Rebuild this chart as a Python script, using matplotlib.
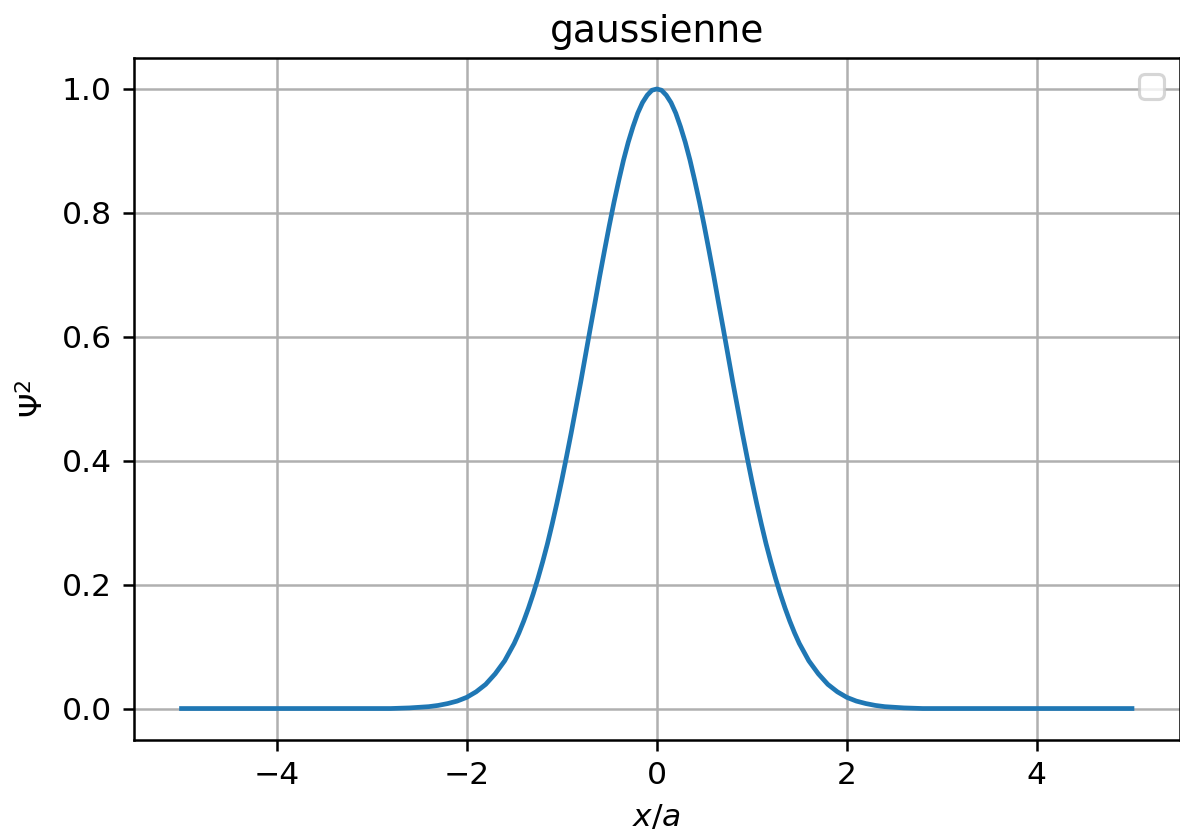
import matplotlib
matplotlib.use("Agg")
import matplotlib.pyplot as plt

# values
x_pos = [0.0, 0.05, 0.1, 0.15, 0.2, 0.25, 0.3, 0.35, 0.4, 0.45, 0.5, 0.55, 0.6, 0.65,
         0.7, 0.75, 0.8, 0.85, 0.9, 0.95, 1.0, 1.05, 1.1, 1.15, 1.2, 1.25, 1.3, 1.35,
         1.4, 1.45, 1.5, 1.6, 1.7, 1.8, 1.9, 2.0, 2.1, 2.2, 2.3, 2.4, 2.5, 2.6, 2.8,
         3.0, 4.0, 5.0]
psi2_pos = [1.000, 0.998, 0.990, 0.978, 0.961, 0.939, 0.914, 0.885, 0.852, 0.817,
            0.779, 0.739, 0.698, 0.655, 0.613, 0.570, 0.527, 0.486, 0.445, 0.406,
            0.368, 0.332, 0.298, 0.266, 0.237, 0.210, 0.185, 0.162, 0.141, 0.122,
            0.105, 0.077, 0.056, 0.039, 0.027, 0.018, 0.012, 0.008, 0.005, 0.003,
            0.002, 0.001, 0.000, 0.000, 0.000, 0.000]

x_vals = [-v for v in x_pos[::-1]] + x_pos[1:]
psi2_vals = psi2_pos[::-1] + psi2_pos[1:]

title = "gaussienne"
xlabel = "$x/a$"
ylabel = r"$\Psi^2$"

DPI = 226
fig = plt.figure(figsize=(1180 / DPI, 838 / DPI), dpi=DPI)
ax = fig.add_axes([134 / 1180, 1 - 739.5 / 838, (1179.5 - 134) / 1180, (739.5 - 58) / 838])
ax.plot(x_vals, psi2_vals, color="#1f77b4", linewidth=1.5)
ax.set_xlim(-5.5, 5.5)
ax.set_ylim(-0.05, 1.05)
ax.grid(True)
ax.set_title(title, pad=5)
ax.set_xlabel(xlabel)
ax.set_ylabel(ylabel)
ax.legend(handles=[], loc="upper right")
fig.savefig("out.png", dpi=DPI)
